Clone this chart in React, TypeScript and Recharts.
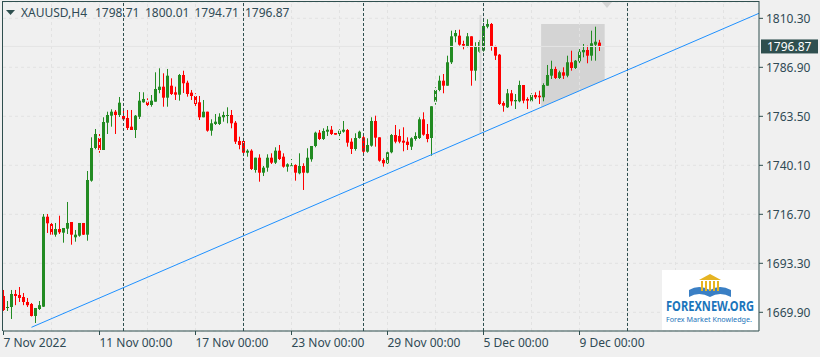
import React from 'react'
import {
  ComposedChart, Bar, Area, XAxis, YAxis, CartesianGrid, ReferenceLine,
} from 'recharts'

// XAUUSD H4, one candle per 4 hours starting 7 Nov 2022 00:00
const opens = [
  1677.69, 1671.96, 1672.44, 1678.65, 1678.17, 1677.22, 1674.83, 1673.87, 1668.15, 1671.48,
  1672.58, 1715.56, 1712.08, 1706.97, 1709.69, 1707.92, 1709.83, 1713.03, 1705.73, 1706.49,
  1712.56, 1706.97, 1732.76, 1748.38, 1753.15, 1747.42, 1760.46, 1763.80, 1765.71, 1764.13,
  1763.66, 1762.70, 1758.55, 1756.97, 1763.28, 1770.20, 1770.49, 1768.91, 1770.49, 1776.08,
  1777.65, 1772.40, 1778.13, 1774.98, 1773.83, 1783.24, 1779.56, 1774.79, 1773.21, 1770.20,
  1763.04, 1765.71, 1756.64, 1759.84, 1759.84, 1763.04, 1763.66, 1764.13, 1760.46, 1751.72,
  1751.72, 1746.13, 1747.09, 1737.87, 1743.74, 1736.58, 1738.97, 1743.74, 1741.36, 1747.09,
  1744.22, 1739.45, 1739.78, 1740.26, 1736.29, 1739.78, 1736.58, 1742.98, 1749.33, 1755.68,
  1752.67, 1756.16, 1757.11, 1755.54, 1755.06, 1756.16, 1756.97, 1751.39, 1747.90, 1753.15,
  1753.48, 1746.61, 1749.47, 1761.27, 1753.48, 1742.64, 1741.07, 1746.32, 1754.58, 1754.11,
  1751.86, 1751.39, 1749.00, 1752.67, 1753.15, 1762.08, 1755.06, 1753.15, 1770.49, 1776.08,
  1780.52, 1778.13, 1789.31, 1801.72, 1802.01, 1798.05, 1796.95, 1801.72, 1785.29, 1794.37,
  1794.85, 1806.31, 1807.60, 1796.95, 1792.94, 1769.87, 1767.81, 1774.50, 1770.68, 1770.68,
  1778.46, 1771.78, 1770.68, 1773.69, 1773.35, 1772.59, 1778.13, 1782.91, 1786.11, 1781.81,
  1784.53, 1782.91, 1789.31, 1786.58, 1789.78, 1794.08, 1795.18, 1792.46, 1797.71, 1798.71,
]
const highs = [
  1680.56, 1675.30, 1680.56, 1680.56, 1681.99, 1679.13, 1676.74, 1674.35, 1671.96, 1675.30,
  1716.85, 1716.85, 1713.03, 1712.56, 1716.04, 1710.17, 1722.59, 1713.03, 1709.21, 1712.56,
  1712.56, 1737.39, 1753.48, 1757.45, 1755.06, 1763.04, 1765.71, 1766.86, 1766.52, 1772.73,
  1766.86, 1766.52, 1766.52, 1764.13, 1775.12, 1774.98, 1772.11, 1773.68, 1784.53, 1786.44,
  1784.05, 1786.11, 1781.66, 1777.65, 1783.72, 1785.29, 1780.52, 1776.08, 1774.50, 1773.21,
  1771.30, 1765.71, 1762.08, 1764.61, 1764.95, 1765.71, 1767.81, 1766.52, 1761.27, 1753.78,
  1753.78, 1747.76, 1747.76, 1743.74, 1745.37, 1739.78, 1745.37, 1745.84, 1748.71, 1749.81,
  1745.84, 1741.07, 1743.12, 1740.59, 1745.84, 1741.07, 1748.23, 1749.33, 1756.16, 1756.97,
  1757.78, 1758.88, 1758.88, 1755.54, 1757.30, 1761.27, 1757.45, 1753.01, 1755.40, 1756.64,
  1754.11, 1753.01, 1763.04, 1763.80, 1753.48, 1743.45, 1746.61, 1755.06, 1759.36, 1757.30,
  1758.26, 1753.48, 1753.48, 1755.87, 1763.04, 1765.42, 1759.84, 1768.29, 1777.37, 1782.91,
  1783.72, 1792.46, 1804.40, 1804.73, 1804.88, 1799.62, 1803.30, 1801.72, 1798.86, 1799.96,
  1809.65, 1809.84, 1808.07, 1797.23, 1793.27, 1770.68, 1776.56, 1776.08, 1774.16, 1780.52,
  1778.46, 1772.59, 1774.50, 1774.98, 1775.74, 1779.28, 1788.02, 1790.07, 1787.20, 1785.29,
  1786.92, 1792.46, 1794.85, 1790.40, 1796.47, 1798.05, 1797.23, 1804.40, 1806.31, 1800.01,
]
const lows = [
  1670.53, 1670.53, 1666.71, 1673.31, 1674.83, 1673.31, 1672.44, 1667.90, 1664.79, 1671.00,
  1672.44, 1707.78, 1706.83, 1706.01, 1707.30, 1703.15, 1707.30, 1702.19, 1703.62, 1706.01,
  1706.83, 1704.10, 1732.28, 1747.76, 1746.09, 1747.42, 1755.06, 1758.55, 1755.06, 1763.18,
  1761.75, 1756.97, 1756.97, 1753.15, 1762.22, 1770.01, 1767.00, 1768.10, 1770.49, 1774.50,
  1768.10, 1768.10, 1773.68, 1771.30, 1770.97, 1774.64, 1772.88, 1771.30, 1768.43, 1761.75,
  1763.04, 1756.16, 1754.25, 1759.36, 1759.36, 1760.94, 1760.17, 1757.78, 1750.29, 1747.76,
  1744.22, 1744.22, 1737.87, 1736.58, 1732.28, 1734.98, 1737.06, 1740.73, 1740.73, 1742.64,
  1738.97, 1737.06, 1739.45, 1732.76, 1735.81, 1728.32, 1736.29, 1741.83, 1748.71, 1752.20,
  1752.20, 1754.11, 1754.58, 1754.73, 1752.20, 1755.68, 1749.00, 1745.51, 1747.09, 1752.82,
  1745.51, 1746.13, 1749.00, 1749.00, 1741.83, 1739.45, 1740.73, 1745.84, 1750.62, 1750.62,
  1746.80, 1747.42, 1747.42, 1751.86, 1752.67, 1754.25, 1751.10, 1744.70, 1769.05, 1775.46,
  1774.50, 1778.13, 1788.49, 1798.86, 1797.23, 1795.51, 1796.47, 1778.13, 1780.52, 1793.75,
  1794.37, 1805.54, 1794.85, 1790.40, 1768.91, 1765.71, 1767.48, 1768.58, 1767.00, 1770.20,
  1769.72, 1767.00, 1770.20, 1771.78, 1769.39, 1770.68, 1778.13, 1781.33, 1781.33, 1781.33,
  1781.33, 1782.14, 1785.29, 1786.11, 1788.97, 1791.69, 1788.83, 1790.07, 1790.07, 1794.71,
]
const closes = [
  1671.00, 1672.44, 1678.65, 1677.69, 1676.74, 1674.83, 1673.31, 1668.15, 1671.96, 1673.31,
  1715.56, 1712.41, 1706.97, 1709.69, 1708.11, 1710.17, 1712.56, 1706.97, 1706.97, 1712.56,
  1706.97, 1733.09, 1748.38, 1755.06, 1747.42, 1760.79, 1764.13, 1765.71, 1764.13, 1770.01,
  1762.08, 1757.93, 1756.97, 1763.80, 1770.97, 1771.78, 1768.91, 1770.97, 1776.56, 1777.65,
  1772.40, 1782.91, 1774.16, 1773.83, 1783.24, 1779.28, 1774.16, 1773.21, 1769.39, 1763.04,
  1765.71, 1756.64, 1760.17, 1760.94, 1763.32, 1764.13, 1764.13, 1760.17, 1751.39, 1749.81,
  1746.13, 1747.09, 1738.35, 1743.74, 1736.58, 1738.97, 1743.74, 1741.36, 1747.09, 1743.12,
  1739.45, 1740.59, 1740.11, 1736.58, 1739.78, 1736.58, 1743.74, 1749.33, 1755.68, 1752.67,
  1756.50, 1757.11, 1755.06, 1754.73, 1756.64, 1757.11, 1750.91, 1747.90, 1753.15, 1756.16,
  1746.61, 1749.81, 1761.27, 1753.29, 1742.31, 1741.07, 1746.32, 1754.58, 1751.39, 1751.39,
  1750.91, 1749.81, 1753.01, 1754.11, 1762.08, 1754.73, 1752.67, 1768.29, 1776.08, 1780.52,
  1778.13, 1789.31, 1801.72, 1803.30, 1797.71, 1797.23, 1801.72, 1785.29, 1797.09, 1799.00,
  1806.64, 1807.60, 1796.95, 1792.46, 1769.39, 1768.58, 1774.50, 1770.68, 1771.30, 1778.46,
  1770.97, 1770.97, 1773.69, 1772.59, 1772.59, 1778.46, 1783.24, 1786.11, 1781.81, 1784.53,
  1782.91, 1789.31, 1786.58, 1790.07, 1794.37, 1795.18, 1792.46, 1798.38, 1799.14, 1796.87,
]

const priceTicks = [1669.90, 1693.30, 1716.70, 1740.10, 1763.50, 1786.90, 1810.30]
const timeTickBars = [0, 24, 48, 72, 96, 120, 144]
const timeTickLabels = ['7 Nov 2022', '11 Nov 00:00', '17 Nov 00:00', '23 Nov 00:00', '29 Nov 00:00', '5 Dec 00:00', '9 Dec 00:00']
const separatorBars = [30, 60, 90, 120, 156]
const gridBars = [12, 24, 36, 48, 60, 72, 84, 96, 108, 120, 132, 144, 156, 168, 180]

// drawn objects
const trendFrom = { bar: 7, price: 1662.74 }
const trendTo = { bar: 188.875, price: 1812.71 }
const shadeBars = [134.4, 150.3]
const shadeTop = 1807.6

const GREEN = '#228B22'
const RED = '#FF0000'
const LINE = '#2F4F4F'
const TEXT = '#2F4A55'
const GRID = '#e2e2e2'

const candles = opens.map((open, i) => ({
  x: i, open, high: highs[i], low: lows[i], close: closes[i],
}))

const trendAt = (bar: number) =>
  trendFrom.price + ((bar - trendFrom.bar) * (trendTo.price - trendFrom.price)) / (trendTo.bar - trendFrom.bar)

const shade = shadeBars.map((b) => ({ x: b, band: [trendAt(b), shadeTop] }))

function Candle(props: any) {
  const { x, y, width, height, payload } = props
  if (!payload) return null
  const { open, close, high, low } = payload
  const top = Math.min(y, y + height)
  const h = Math.abs(height)
  const k = high > low ? h / (high - low) : 0
  const py = (v: number) => top + (high - v) * k
  const cx = Math.floor(x + width / 2) + 0.5
  const color = close >= open ? GREEN : RED
  const bt = py(Math.max(open, close))
  const bb = py(Math.min(open, close))
  return (
    <g>
      <line x1={cx} x2={cx} y1={top} y2={top + h} stroke={color} strokeWidth={1} />
      <rect x={cx - 1.5} y={bt} width={3} height={Math.max(1, bb - bt)} fill={color} />
    </g>
  )
}

function TimeTick(props: any) {
  const { x, y, payload } = props
  const idx = timeTickBars.indexOf(payload.value)
  return (
    <text x={x} y={y + 10} fill={TEXT} fontSize={12} textAnchor="start">
      {timeTickLabels[idx]}
    </text>
  )
}

function PriceTag(props: any) {
  const vb = props.viewBox || {}
  const left = vb.x + vb.width + 2
  return (
    <g>
      <rect x={left} y={vb.y - 7} width={57} height={14} fill={LINE} />
      <text x={left + 6} y={vb.y + 4.5} fill="#ffffff" fontSize={12}>
        {closes[closes.length - 1].toFixed(2)}
      </text>
    </g>
  )
}

export default function App() {
  return (
    <div style={{ position: 'absolute', left: 0, top: 0, width: 820, height: 357, background: '#f0f0f0', fontFamily: '"Noto Sans", sans-serif', overflow: 'hidden' }}>
      <ComposedChart width={820} height={357} data={candles} margin={{ top: 2, right: 0, bottom: 0, left: 3 }}>
        <CartesianGrid vertical={false} stroke={GRID} strokeDasharray="3 3" />
        <XAxis
          type="number"
          dataKey="x"
          domain={[-0.125, 188.875]}
          allowDataOverflow
          ticks={timeTickBars}
          interval={0}
          height={26}
          tickSize={4}
          tickMargin={2}
          axisLine={{ stroke: LINE }}
          tickLine={{ stroke: LINE }}
          tick={TimeTick}
        />
        <YAxis
          orientation="right"
          type="number"
          domain={[1660.97, 1818.1]}
          allowDataOverflow
          ticks={priceTicks}
          interval={0}
          width={61}
          tickSize={4}
          tickMargin={3}
          axisLine={{ stroke: LINE }}
          tickLine={{ stroke: LINE }}
          tick={{ fill: TEXT, fontSize: 12 }}
          tickFormatter={(v: number) => v.toFixed(2)}
        />
        <Area data={shade} dataKey="band" type="linear" stroke="none" fill="#d4d4d4" fillOpacity={1} isAnimationActive={false} />
        {gridBars.map((b) => (
          <ReferenceLine key={'g' + b} x={b} stroke={GRID} strokeDasharray="3 3" />
        ))}
        <ReferenceLine y={closes[closes.length - 1]} stroke="#e4e4e4" label={<PriceTag />} />
        {separatorBars.map((b) => (
          <ReferenceLine key={'s' + b} x={b} stroke={LINE} strokeDasharray="3 2" />
        ))}
        <ReferenceLine segment={[{ x: 119.25, y: 1811.9 }, { x: 119.25, y: 1755.5 }]} stroke="#d6d6d6" strokeWidth={2} />
        <Bar dataKey={(d: any) => [d.low, d.high]} barSize={3} shape={<Candle />} isAnimationActive={false} />
        <ReferenceLine
          segment={[{ x: trendFrom.bar, y: trendFrom.price }, { x: trendTo.bar, y: trendTo.price }]}
          stroke="#1E90FF"
          strokeWidth={1}
        />
      </ComposedChart>
      <svg width={820} height={357} style={{ position: 'absolute', left: 0, top: 0, pointerEvents: 'none' }}>
        <line x1={2.5} x2={2.5} y1={1} y2={331} stroke={LINE} />
        <line x1={2} x2={759.5} y1={1.5} y2={1.5} stroke={LINE} />
        <polygon points="602,2 612,2 607,8" fill="#d4d4d4" />
        <polygon points="6,10 15,10 10.5,15" fill={LINE} />
        <g fill={TEXT} fontSize={12} fontFamily='"Noto Sans", sans-serif'>
          <text x={21} y={17}>XAUUSD,H4</text>
          <text x={95} y={17}>1798.71</text>
          <text x={145} y={17}>1800.01</text>
          <text x={194.5} y={17}>1794.71</text>
          <text x={245} y={17}>1796.87</text>
        </g>
        <g>
          <rect x={662} y={270} width={96} height={60} fill="#ffffff" />
          <path d="M689 290 Q699 284 710 290 Q720 284 731 290 L731 297 Q720 291 710 297 Q699 291 689 297 Z" fill="#3a7fc4" />
          <polygon points="699,280 721,280 710,274" fill="#e6b422" />
          {[701, 705, 709, 713, 717].map((px) => (
            <rect key={px} x={px} y={281} width={2} height={10} fill="#e6b422" />
          ))}
          <text transform="translate(666 310.5) scale(1 1.3)" x={0} y={0} fontSize={11} fontWeight="bold" fill="#1b75bb" textLength={88} lengthAdjust="spacingAndGlyphs" fontFamily='"Noto Sans", sans-serif'>
            FOREXNEW.ORG
          </text>
          <text x={666} y={322} fontSize={6.5} fill="#1b75bb" textLength={86} lengthAdjust="spacingAndGlyphs" fontFamily='"Noto Sans", sans-serif'>
            Forex Market Knowledge.
          </text>
        </g>
      </svg>
    </div>
  )
}
